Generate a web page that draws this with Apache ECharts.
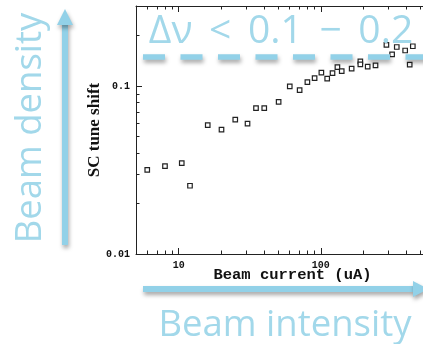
<!DOCTYPE html>
<html>
<head>
<meta charset="utf-8">
<script src="https://cdn.jsdelivr.net/npm/echarts@6/dist/echarts.min.js"></script>
<style>
  html, body { margin: 0; padding: 0; background: #fff; }
  #chart { width: 423px; height: 344px; }
</style>
</head>
<body>
<div id="chart"></div>
<script type="text/javascript">

// beam current (uA) and space-charge tune shift
var beamCurrent = [6, 8, 10.5, 12, 16, 20, 25, 30.5, 35, 40, 50.5, 60.5, 71, 80.5, 90.5,
  101, 111, 121, 131, 140.5, 165, 190, 190, 214, 243, 290, 318, 343, 393, 423, 445];
var tuneShift = [0.0317, 0.0334, 0.0348, 0.0255, 0.0585, 0.0551, 0.0632, 0.0598, 0.0739, 0.0739,
  0.0805, 0.0996, 0.0946, 0.1055, 0.1116, 0.1202, 0.1109, 0.1196, 0.1299, 0.1229,
  0.127, 0.1404, 0.1348, 0.1306, 0.133, 0.1758, 0.1547, 0.171, 0.163, 0.1343, 0.1727];

// ticks
var xMajor = [10, 100];
var xMinor = [6, 7, 8, 9, 20, 30, 40, 50, 60, 70, 80, 90, 200, 300, 400, 500, 600, 700];
var yMajor = [0.01, 0.1];
var yMinor = [0.02, 0.03, 0.04, 0.05, 0.06, 0.07, 0.08, 0.09, 0.2];

var points = [];
for (var i = 0; i < beamCurrent.length; i++) {
  points.push([beamCurrent[i], tuneShift[i]]);
}

var chart = echarts.init(document.getElementById('chart'));

var axisCol = '#222';
var monoFont = 'Liberation Mono';
var blue = '#92d1e8';
var textBlue = '#a2d8ea';
var shadow = { shadowBlur: 4, shadowColor: 'rgba(0,0,0,0.35)', shadowOffsetX: 1, shadowOffsetY: 3 };

function xAx(pos, major, withLine, withLabel) {
  return {
    type: 'log', logBase: 10, min: 5, max: 800, position: pos,
    axisLine: { show: withLine, lineStyle: { color: axisCol, width: 1 } },
    axisTick: { show: true, inside: true, length: major ? 6 : 3.5,
      customValues: major ? xMajor : xMinor, lineStyle: { color: axisCol } },
    axisLabel: withLabel ? {
      show: true, customValues: xMajor, margin: 6,
      fontFamily: monoFont, fontWeight: 'bold', fontSize: 10, color: '#111'
    } : { show: false },
    splitLine: { show: false },
    name: withLabel ? 'Beam current (uA)' : '',
    nameLocation: 'middle', nameGap: 13, nameMoveOverlap: false,
    nameTextStyle: { fontFamily: monoFont, fontWeight: 'bold', fontSize: 15.5, color: '#111' }
  };
}

function yAx(major, withLine) {
  return {
    type: 'log', logBase: 10, min: 0.01, max: 0.3, position: 'left',
    axisLine: { show: withLine, lineStyle: { color: axisCol, width: 1 } },
    axisTick: { show: true, inside: true, length: major ? 6 : 3.5,
      customValues: major ? yMajor : yMinor, lineStyle: { color: axisCol } },
    axisLabel: major ? {
      show: true, customValues: yMajor, margin: 6,
      fontFamily: monoFont, fontWeight: 'bold', fontSize: 10, color: '#111',
      formatter: function (v) { return v < 0.05 ? '0.01' : '0.1'; }
    } : { show: false },
    splitLine: { show: false },
    name: major ? 'SC tune shift' : '',
    nameLocation: 'middle', nameRotate: 90, nameGap: 33, nameMoveOverlap: false,
    nameTextStyle: { fontFamily: 'Liberation Serif', fontWeight: 'bold', fontSize: 17, color: '#111' }
  };
}

var option = {
  animation: false,
  backgroundColor: '#fff',
  grid: { left: 136, top: 6, width: 313, height: 248, outerBoundsMode: 'none', containLabel: false },
  xAxis: [
    xAx('bottom', true, true, true),
    xAx('bottom', false, false, false),
    xAx('top', true, true, false),
    xAx('top', false, false, false)
  ],
  yAxis: [
    yAx(true, true),
    yAx(false, false)
  ],
  series: [{
    type: 'scatter',
    xAxisIndex: 0, yAxisIndex: 0,
    symbol: 'rect', symbolSize: 4.5,
    itemStyle: { color: '#fff', borderColor: '#222', borderWidth: 1.2, opacity: 1 },
    data: points
  }],
  graphic: [
    // dashed limit line
    { type: 'line', z: 100, shape: { x1: 143, y1: 57, x2: 440, y2: 57 },
      style: Object.assign({ stroke: blue, lineWidth: 5.5, lineDash: [22, 15.5] }, shadow) },
    { type: 'text', z: 101, x: 281, y: 12,
      style: { text: 'Δν \u2009< \u20090.1 \u2009\u2212 \u20090.2', font: '39px "Open Sans"', fill: textBlue,
        textAlign: 'center', textVerticalAlign: 'top' } },
    // vertical arrow
    { type: 'line', z: 100, shape: { x1: 65, y1: 245, x2: 65, y2: 24 },
      style: Object.assign({ stroke: blue, lineWidth: 6 }, shadow) },
    { type: 'polygon', z: 100, shape: { points: [[57, 25], [73, 25], [65, 9]] },
      style: Object.assign({ fill: blue }, shadow) },
    { type: 'text', z: 101, x: 31, y: 128, rotation: Math.PI / 2,
      style: { text: 'Beam density', font: '36.5px "Open Sans"', fill: textBlue,
        textAlign: 'center', textVerticalAlign: 'middle' } },
    // horizontal arrow
    { type: 'line', z: 100, shape: { x1: 143, y1: 289, x2: 414, y2: 289 },
      style: Object.assign({ stroke: blue, lineWidth: 6 }, shadow) },
    { type: 'polygon', z: 100, shape: { points: [[413, 281], [413, 297], [428, 289]] },
      style: Object.assign({ fill: blue }, shadow) },
    { type: 'text', z: 101, x: 285, y: 307,
      style: { text: 'Beam intensity', font: '36.5px "Open Sans"', fill: textBlue,
        textAlign: 'center', textVerticalAlign: 'top' } }
  ]
};

chart.setOption(option);

</script>
</body>
</html>
